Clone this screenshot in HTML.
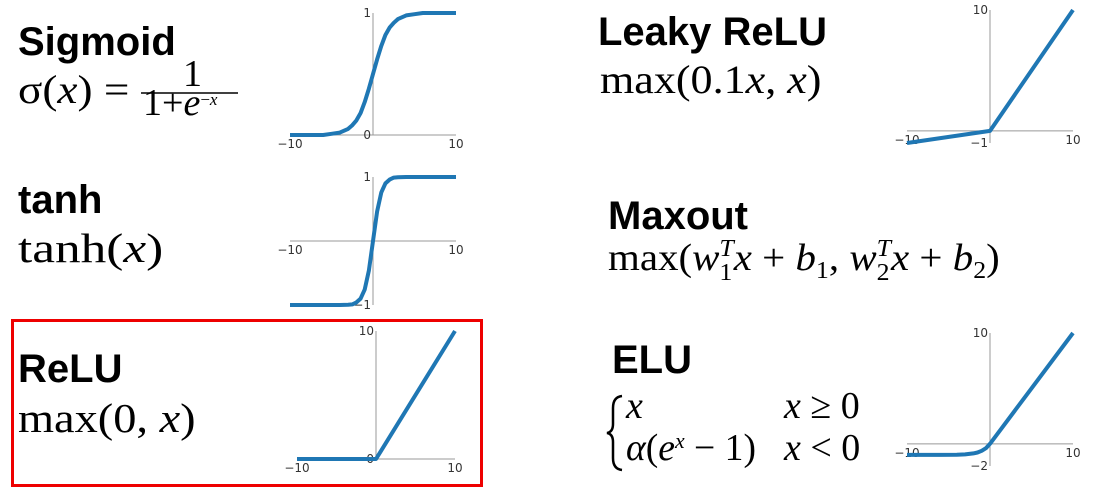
<!DOCTYPE html>
<html><head><meta charset="utf-8"><style>
body{margin:0;background:#fff;}
svg{display:block;}
.t{font-family:"Liberation Sans",sans-serif;font-weight:bold;font-size:40px;fill:#000;}
.f{font-family:"Liberation Serif",serif;font-size:38px;fill:#000;}
.tk{font-family:"DejaVu Sans","Liberation Sans",sans-serif;font-size:12px;fill:#333;}
</style></head><body>
<svg id="c" width="1115" height="491" viewBox="0 0 1115 491">
<text class="t" x="18" y="55">Sigmoid</text>
<g transform="translate(18,103) scale(1.19,1.05)"><text class="f" x="0" y="0">σ(<tspan font-style="italic">x</tspan>) =</text></g>
<g>
<text class="f" x="183" y="86" font-size="22">1</text>
<line x1="141" y1="93" x2="238" y2="93" stroke="#000" stroke-width="1.5"/>
<text class="f" x="143" y="115" font-size="25">1+<tspan font-style="italic">e</tspan><tspan font-size="17" dy="-10">−<tspan font-style="italic">x</tspan></tspan></text>
</g>
<text class="t" x="18" y="213">tanh</text>
<g transform="translate(18,262) scale(1.35,1.08)"><text class="f" x="0" y="0">tanh(<tspan font-style="italic">x</tspan>)</text></g>
<rect x="12.5" y="320.5" width="469" height="165" fill="none" stroke="#e00" stroke-width="3"/>
<text class="t" x="18" y="382">ReLU</text>
<g transform="translate(18,432) scale(1.22,1.08)"><text class="f" x="0" y="0">max(0, <tspan font-style="italic">x</tspan>)</text></g>
<text class="t" x="598" y="45">Leaky ReLU</text>
<g transform="translate(600,93) scale(1.16,1.05)"><text class="f" x="0" y="0">max(0.1<tspan font-style="italic">x</tspan>, <tspan font-style="italic">x</tspan>)</text></g>
<text class="t" x="608" y="229">Maxout</text>
<g transform="translate(608,270) scale(1.077,1)"><text class="f" x="0" y="0">max(<tspan font-style="italic">w</tspan><tspan font-size="24" dy="10">1</tspan><tspan font-size="24" font-style="italic" dx="-12" dy="-24">T</tspan><tspan dy="14" font-style="italic">x</tspan> + <tspan font-style="italic">b</tspan><tspan font-size="24" dy="8">1</tspan><tspan dy="-8">, </tspan><tspan font-style="italic">w</tspan><tspan font-size="24" dy="10">2</tspan><tspan font-size="24" font-style="italic" dx="-12" dy="-24">T</tspan><tspan dy="14" font-style="italic">x</tspan> + <tspan font-style="italic">b</tspan><tspan font-size="24" dy="8">2</tspan><tspan dy="-8">)</tspan></text></g>
<text class="t" x="612" y="373">ELU</text>
<g>
<path d="M622,396 Q613,397 613,408 L613,424 Q613,432 607,433 Q613,434 613,442 L613,458 Q613,469 622,470" fill="none" stroke="#000" stroke-width="2.5"/>
<text class="f" x="626" y="418" font-size="34" font-style="italic">x</text>
<text class="f" x="784" y="418" font-size="34"><tspan font-style="italic">x</tspan> ≥ 0</text>
<text class="f" x="626" y="460" font-size="34" textLength="130" lengthAdjust="spacingAndGlyphs"><tspan font-style="italic">α</tspan>(<tspan font-style="italic">e</tspan><tspan font-size="22" font-style="italic" dy="-12">x</tspan><tspan dy="12"> − 1)</tspan></text>
<text class="f" x="784" y="460" font-size="34"><tspan font-style="italic">x</tspan> &lt; 0</text>
</g>
</svg>
<script>
const sigX=[-10,-8,-6,-5,-4,-3,-2.5,-2,-1.5,-1,-0.5,0,0.5,1,1.5,2,2.5,3,4,5,6,8,10];
const sigY=[0,0,0,0.01,0.02,0.05,0.08,0.12,0.18,0.27,0.38,0.5,0.62,0.73,0.82,0.88,0.92,0.95,0.98,0.99,1,1,1];
const tanhX=[-10,-4,-3,-2.5,-2,-1.5,-1,-0.5,0,0.5,1,1.5,2,2.5,3,4,10];
const tanhY=[-1,-1,-0.995,-0.99,-0.96,-0.9,-0.76,-0.46,0,0.46,0.76,0.9,0.96,0.99,0.995,1,1];
const reluX=[-10,0,10];
const reluY=[0,0,10];
const leakyX=[-10,0,10];
const leakyY=[-1,0,10];
const eluX=[-10,-6,-4,-3,-2,-1.5,-1,-0.5,0,10];
const eluY=[-1,-0.998,-0.98,-0.95,-0.86,-0.78,-0.63,-0.39,0,10];
const xTicks=["−10","10"];
const plots=[
 {name:'sigmoid',xs:sigX,ys:sigY,x0:290,x1:456,ymin:0,ymax:1,yTop:13,yBot:135,yl:["0","1"]},
 {name:'tanh',xs:tanhX,ys:tanhY,x0:290,x1:456,ymin:-1,ymax:1,yTop:177,yBot:305,yl:["−1","1"]},
 {name:'relu',xs:reluX,ys:reluY,x0:297,x1:455,ymin:0,ymax:10,yTop:331,yBot:459,yl:["0","10"]},
 {name:'leaky-relu',xs:leakyX,ys:leakyY,x0:907,x1:1073,ymin:-1,ymax:10,yTop:10,yBot:143,yl:["−1","10"]},
 {name:'elu',xs:eluX,ys:eluY,x0:907,x1:1073,ymin:-2,ymax:10,yTop:333,yBot:466,yl:["−2","10"]}
];
const svg=document.getElementById('c');
const NS='http://www.w3.org/2000/svg';
function mk(tag,attrs,parent){const e=document.createElementNS(NS,tag);for(const k in attrs)e.setAttribute(k,attrs[k]);parent.appendChild(e);return e;}
plots.forEach(p=>{
 const sx=v=>p.x0+(v+10)/20*(p.x1-p.x0);
 const sy=v=>p.yBot-(v-p.ymin)/(p.ymax-p.ymin)*(p.yBot-p.yTop);
 const g=mk('g',{},svg);
 
 
 const y0=sy(Math.max(0,p.ymin));
 const xa=mk('line',{x1:p.x0,x2:p.x1,y1:y0,y2:y0,stroke:'#999','stroke-width':1},g);
 
 
 const ya=mk('line',{x1:sx(0),x2:sx(0),y1:p.yTop,y2:p.yBot,stroke:'#999','stroke-width':1},g);
 
 
 [[-10,xTicks[0]],[10,xTicks[1]]].forEach(([v,l])=>{
  const t=mk('text',{x:sx(v),y:y0+13,'text-anchor':'middle',class:'tk'},g);t.textContent=l;
  
  
 });
 [[p.ymin,p.yl[0]],[p.ymax,p.yl[1]]].forEach(([v,l])=>{
  const t=mk('text',{x:sx(0)-2,y:sy(v)+4,'text-anchor':'end',class:'tk'},g);t.textContent=l;
  
  
 });
 const pts=p.xs.map((x,i)=>sx(x).toFixed(1)+','+sy(p.ys[i]).toFixed(1)).join(' ');
 const l=mk('polyline',{points:pts,fill:'none',stroke:'#1f77b4','stroke-width':4,'stroke-linejoin':'round'},g);
 
 
});
</script>
</body></html>
